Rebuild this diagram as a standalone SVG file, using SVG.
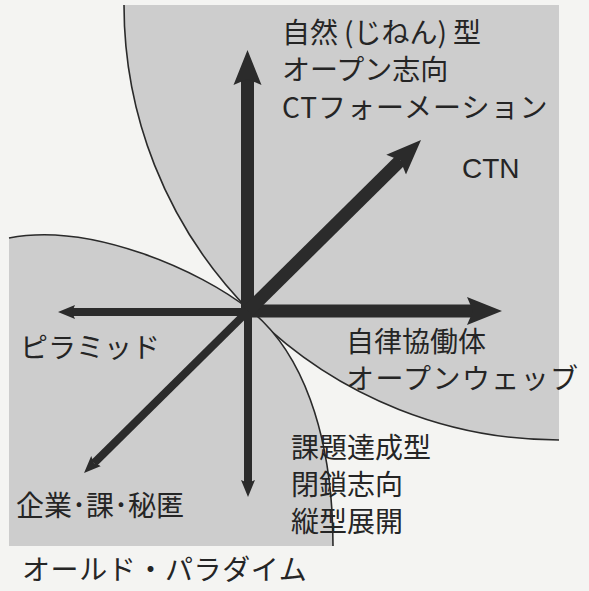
<svg xmlns="http://www.w3.org/2000/svg" width="589" height="591" viewBox="0 0 589 591">
<style>
.region{fill:#cdcdcd;stroke:none}
.edge{fill:none;stroke:#2a2a2a;stroke-width:1.6}
.thick{stroke:#2b2b2b;stroke-width:13;fill:none}
.thin{stroke:#2b2b2b;stroke-width:8;fill:none}
.lbl{font-family:"Noto Sans CJK JP","Noto Sans",sans-serif;font-size:28px;fill:#252525}
.lat{font-family:"Liberation Sans",Arial,sans-serif;font-size:28px;fill:#252525}
</style>
<defs>
<marker id="headL" markerUnits="userSpaceOnUse" markerWidth="36" markerHeight="30" viewBox="0 -15 36 30" refX="6" refY="0" orient="auto">
<path d="M35,0 L0,-14 L6,0 L0,14 Z" fill="#2b2b2b"/>
</marker>
<marker id="headS" markerUnits="userSpaceOnUse" markerWidth="18" markerHeight="16" viewBox="0 -8 18 16" refX="3" refY="0" orient="auto">
<path d="M17,0 L0,-7 L3,0 L0,7 Z" fill="#2b2b2b"/>
</marker>
</defs>
<rect x="0" y="0" width="589" height="591" fill="#f4f4f2"/>
<g id="new-paradigm-region">
<path class="region" d="M124,5 A435,435 0 0 0 559,440 L559,5 Z"/>
<path class="edge" d="M124,5 A435,435 0 0 0 559,440"/>
</g>
<g id="old-paradigm-region">
<path class="region" d="M9,238 C90,222 200,270 250,310 C300,350 333,430 333,546 L9,546 Z"/>
<path class="edge" d="M9,238 C90,222 200,270 250,310 C300,350 333,430 333,546"/>
</g>
<g id="connectors">
<line class="thick" x1="247.5" y1="312" x2="247.5" y2="79" marker-end="url(#headL)"/>
<line class="thick" x1="247" y1="311" x2="473" y2="311" marker-end="url(#headL)"/>
<line class="thick" x1="248" y1="311" x2="400.4" y2="160.4" marker-end="url(#headL)"/>
<line class="thin" x1="248" y1="312" x2="72" y2="312" marker-end="url(#headS)"/>
<line class="thin" x1="248" y1="311" x2="248" y2="483" marker-end="url(#headS)"/>
<line class="thin" x1="248" y1="311" x2="94" y2="463.2" marker-end="url(#headS)"/>
</g>
<g id="label-jinen">
<text class="lbl" x="282" y="43">自然<tspan dx="6">(じねん)</tspan><tspan dx="6">型</tspan></text>
<text class="lbl" x="282" y="80">オープン志向</text>
<text class="lbl" x="282" y="118" letter-spacing="1">CTフォーメーション</text>
</g>
<g id="label-ctn">
<text class="lat" x="462" y="178">CTN</text>
</g>
<g id="label-jiritsu">
<text class="lbl" x="346" y="352">自律協働体</text>
<text class="lbl" x="346" y="389" letter-spacing="1.4">オープンウェッブ</text>
</g>
<g id="label-kadai">
<text class="lbl" x="291" y="458">課題達成型</text>
<text class="lbl" x="291" y="495">閉鎖志向</text>
<text class="lbl" x="291" y="532">縦型展開</text>
</g>
<g id="label-pyramid">
<text class="lbl" x="20" y="358">ピラミッド</text>
</g>
<g id="label-kigyo">
<text class="lbl" x="16" y="516">企業･課･秘匿</text>
</g>
<g id="label-old">
<text class="lbl" x="22" y="580" letter-spacing="0.6">オールド・パラダイム</text>
</g>
</svg>
